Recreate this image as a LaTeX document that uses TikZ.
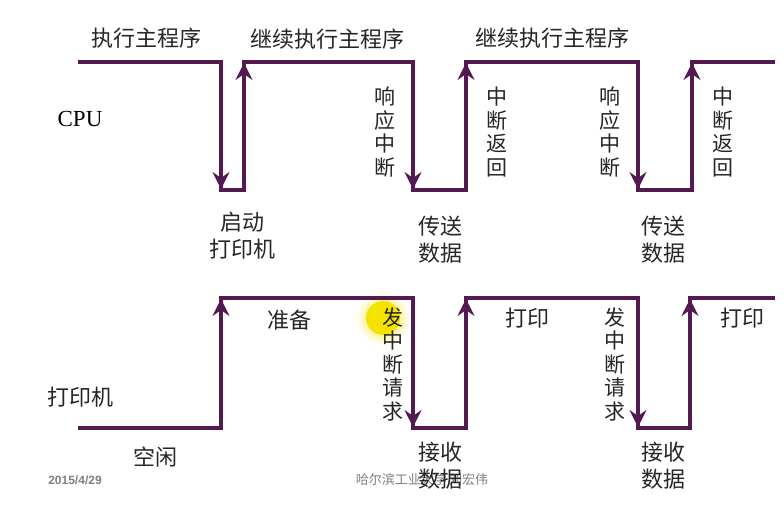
\documentclass[tikz,border=0pt]{standalone}
\usepackage{fontspec}
\setmainfont{Liberation Serif}
\setsansfont{Liberation Sans}
\newfontfamily\cjk{Noto Sans CJK SC}
\usetikzlibrary{arrows.meta}
\definecolor{wavepurple}{HTML}{531A52}
\definecolor{pointer}{HTML}{F5E200}
\tikzset{
  wave/.style={line width=4.5pt, draw=wavepurple, line join=miter},
  wavearrow/.style={wave, -{Stealth[length=17pt,width=17pt,inset=6pt]}, shorten >=1pt},
  lbl/.style={font=\cjk\fontsize{22}{27}\selectfont, text=black!85, align=center, inner sep=0pt},
  vlbl/.style={font=\cjk\fontsize{21}{23.5}\selectfont, text=black!85, align=center, inner sep=0pt},
  foot/.style={font=\cjk\fontsize{13}{15}\selectfont, text=black!50, inner sep=0pt}
}
\begin{document}
\begin{tikzpicture}[x=1pt,y=-1pt]
  \useasboundingbox[fill=white] (0,0) rectangle (784,504);
  % pointer highlight
  \shade[inner color=pointer, outer color=white] (383,318) circle (27);
  \fill[pointer] (383,318) circle (17);
  % CPU level
  \foreach \n/\x/\y in {0/78/62, 1/221/62, 2/221/190, 3/244/190, 4/244/62,
      5/413/62, 6/413/190, 7/466/190, 8/466/62, 9/638/62, 10/638/190,
      11/692/190, 12/692/62, 13/775/62}
    \coordinate (c\n) at (\x,\y);
  \draw[wave] (c0) -- (c1) -- (c2) -- (c3) -- (c4) -- (c5) -- (c6) -- (c7)
    -- (c8) -- (c9) -- (c10) -- (c11) -- (c12) -- (c13);
  \foreach \a/\b in {1/2, 3/4, 5/6, 7/8, 9/10, 11/12}
    \draw[wavearrow] (c\a) -- (c\b);
  % printer level
  \foreach \n/\x/\y in {0/78/428, 1/221/428, 2/221/298, 3/413/298, 4/413/428,
      5/466/428, 6/466/298, 7/638/298, 8/638/428, 9/690/428, 10/690/298,
      11/775/298}
    \coordinate (p\n) at (\x,\y);
  \draw[wave] (p0) -- (p1) -- (p2) -- (p3) -- (p4) -- (p5) -- (p6) -- (p7)
    -- (p8) -- (p9) -- (p10) -- (p11);
  \foreach \a/\b in {1/2, 3/4, 5/6, 7/8, 9/10}
    \draw[wavearrow] (p\a) -- (p\b);
  % slide footer
  \node[foot, font=\sffamily\bfseries\fontsize{12}{14}\selectfont] (date) at (75,480) {2015/4/29};
  \node[foot] (author) at (422,480) {哈尔滨工业大学\,刘宏伟};
  % CPU labels
  \node[lbl] (run) at (146,38) {执行主程序};
  \node[lbl] (cont1) at (327,39) {继续执行主程序};
  \node[lbl] (cont2) at (552,38) {继续执行主程序};
  \node[font=\fontsize{23}{27}\selectfont, inner sep=0pt] (cpu) at (80,119) {CPU};
  \node[vlbl] (ack1) at (385,132) {响\\应\\中\\断};
  \node[vlbl] (ret1) at (497,132) {中\\断\\返\\回};
  \node[vlbl] (ack2) at (610,132) {响\\应\\中\\断};
  \node[vlbl] (ret2) at (723,132) {中\\断\\返\\回};
  \node[lbl] (start) at (242,236) {启动\\打印机};
  \node[lbl] (send1) at (440,240) {传送\\数据};
  \node[lbl] (send2) at (663,240) {传送\\数据};
  % printer labels
  \node[lbl] (prn) at (80,397) {打印机};
  \node[lbl] (idle) at (155,457) {空闲};
  \node[lbl] (ready) at (289,320) {准备};
  \node[vlbl] (req1) at (393,364) {发\\中\\断\\请\\求};
  \node[lbl] (print1) at (527,318) {打印};
  \node[vlbl] (req2) at (615,364) {发\\中\\断\\请\\求};
  \node[lbl] (print2) at (742,318) {打印};
  \node[lbl] (recv1) at (440,466) {接收\\数据};
  \node[lbl] (recv2) at (663,466) {接收\\数据};
\end{tikzpicture}
\end{document}
